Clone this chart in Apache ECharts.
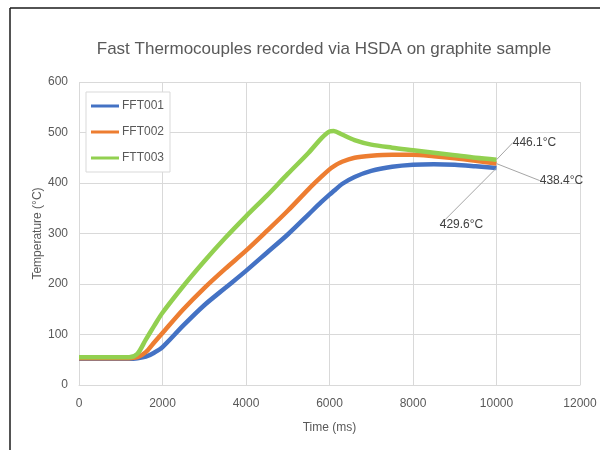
<!DOCTYPE html>
<html>
<head>
<meta charset="utf-8">
<script src="https://cdn.jsdelivr.net/npm/echarts@6/dist/echarts.min.js"></script>
<style>
html,body{margin:0;padding:0;background:#fff;}
#chart{width:600px;height:450px;}
</style>
</head>
<body>
<div id="chart"></div>
<script>
var titleText = "Fast Thermocouples recorded via HSDA on graphite sample";
var seriesNames = ["FFT001", "FFT002", "FTT003"];
var times = [0, 1000, 1200, 1400, 1600, 1800, 2000, 2500, 3000, 3500, 4000, 4500, 5000, 5500, 5800, 6000, 6100, 6300, 6600, 7000, 7500, 8000, 8500, 9000, 9500, 10000];
var fft001 = [52, 52, 52, 53, 56, 64, 75, 118, 158, 192, 226, 262, 298, 338, 362, 377, 384, 398, 412, 424, 432, 436, 437, 436, 433, 429.6];
var fft002 = [53, 53, 53, 55, 65, 84, 103, 150, 192, 230, 266, 305, 345, 388, 412, 427, 433, 442, 450, 454, 456, 456, 453, 449, 444, 438.4];
var ftt003 = [55, 55, 55, 62, 90, 117, 143, 196, 245, 291, 334, 375, 418, 460, 488, 502, 503, 496, 485, 476, 470, 465, 460, 455, 450, 446.1];
var endLabels = ["429.6°C", "438.4°C", "446.1°C"];
var xTicks = [0, 2000, 4000, 6000, 8000, 10000, 12000];
var yTicks = [0, 100, 200, 300, 400, 500, 600];

var colors = ["#4472C4", "#ED7D31", "#92D050"];
var labelOffsets = [[-35, 57], [65, 17], [38, -17]];
var FONT = "Liberation Sans";

function build(vals, idx) {
  return times.map(function (t, i) {
    var item = { value: [t, vals[i]] };
    if (i === times.length - 1) {
      item.label = { show: true, formatter: endLabels[idx] };
      item.labelLine = { show: true };
    }
    return item;
  });
}
var all = [fft001, fft002, ftt003];
var series = all.map(function (v, k) {
  return {
    name: seriesNames[k],
    type: "line",
    data: build(v, k),
    smooth: 0.3,
    showSymbol: true,
    symbol: "circle",
    symbolSize: 0,
    lineStyle: { width: 4.5, color: colors[k] },
    itemStyle: { color: colors[k], borderWidth: 0 },
    label: { show: false, position: "inside", color: "#404040", fontSize: 12, fontFamily: FONT },
    labelLine: { show: false, lineStyle: { color: "#a6a6a6", width: 1 } },
    labelLayout: function (p) {
      if (p.dataIndex !== times.length - 1) return {};
      return { dx: labelOffsets[k][0], dy: labelOffsets[k][1] };
    },
    emphasis: { disabled: true },
    animation: false,
    z: 2 + k
  };
});

var chart = echarts.init(document.getElementById("chart"), null, { renderer: "canvas" });
chart.setOption({
  backgroundColor: "#fff",
  animation: false,
  color: colors,
  title: {
    text: titleText,
    left: 319, top: 36, textAlign: "center",
    textStyle: { fontFamily: FONT, fontSize: 17, fontWeight: "normal", color: "#595959" }
  },
  legend: {
    orient: "vertical",
    left: 86, top: 92,
    padding: [8, 6, 8, 5],
    itemWidth: 28, itemHeight: 3,
    itemGap: 14,
    icon: "rect",
    borderColor: "#d9d9d9", borderWidth: 1,
    backgroundColor: "#fff",
    textStyle: { fontFamily: FONT, fontSize: 12, color: "#595959", padding: [0, 0, 0, -2] },
    data: seriesNames
  },
  grid: { left: 79, right: 20, top: 82, bottom: 65, containLabel: false },
  xAxis: {
    type: "value", min: 0, max: 12000, interval: 2000,
    name: "Time (ms)", nameLocation: "middle", nameGap: 37, nameMoveOverlap: false,
    nameTextStyle: { fontFamily: FONT, fontSize: 12, color: "#595959" },
    axisLine: { show: true, lineStyle: { color: "#d9d9d9" } },
    axisTick: { show: false },
    axisLabel: { fontFamily: FONT, fontSize: 12, color: "#595959", margin: 13,
      formatter: function (v) { return xTicks.indexOf(v) >= 0 ? String(v) : ""; } },
    splitLine: { show: true, lineStyle: { color: "#d9d9d9" } }
  },
  yAxis: {
    type: "value", min: 0, max: 600, interval: 100,
    name: "Temperature (°C)", nameLocation: "middle", nameGap: 35, nameMoveOverlap: false,
    nameTextStyle: { fontFamily: FONT, fontSize: 12, color: "#595959" },
    axisLine: { show: false },
    axisTick: { show: false },
    axisLabel: { fontFamily: FONT, fontSize: 12, color: "#595959", margin: 11,
      formatter: function (v) { return yTicks.indexOf(v) >= 0 ? String(v) : ""; } },
    splitLine: { show: true, lineStyle: { color: "#d9d9d9" } }
  },
  graphic: [
    { type: "line", shape: { x1: 10, y1: 8, x2: 600, y2: 8 }, style: { stroke: "#1a1a1a", lineWidth: 1.5 }, z: 100 },
    { type: "line", shape: { x1: 10, y1: 8, x2: 10, y2: 450 }, style: { stroke: "#1a1a1a", lineWidth: 1.5 }, z: 100 }
  ],
  series: series
});
</script>
</body>
</html>
